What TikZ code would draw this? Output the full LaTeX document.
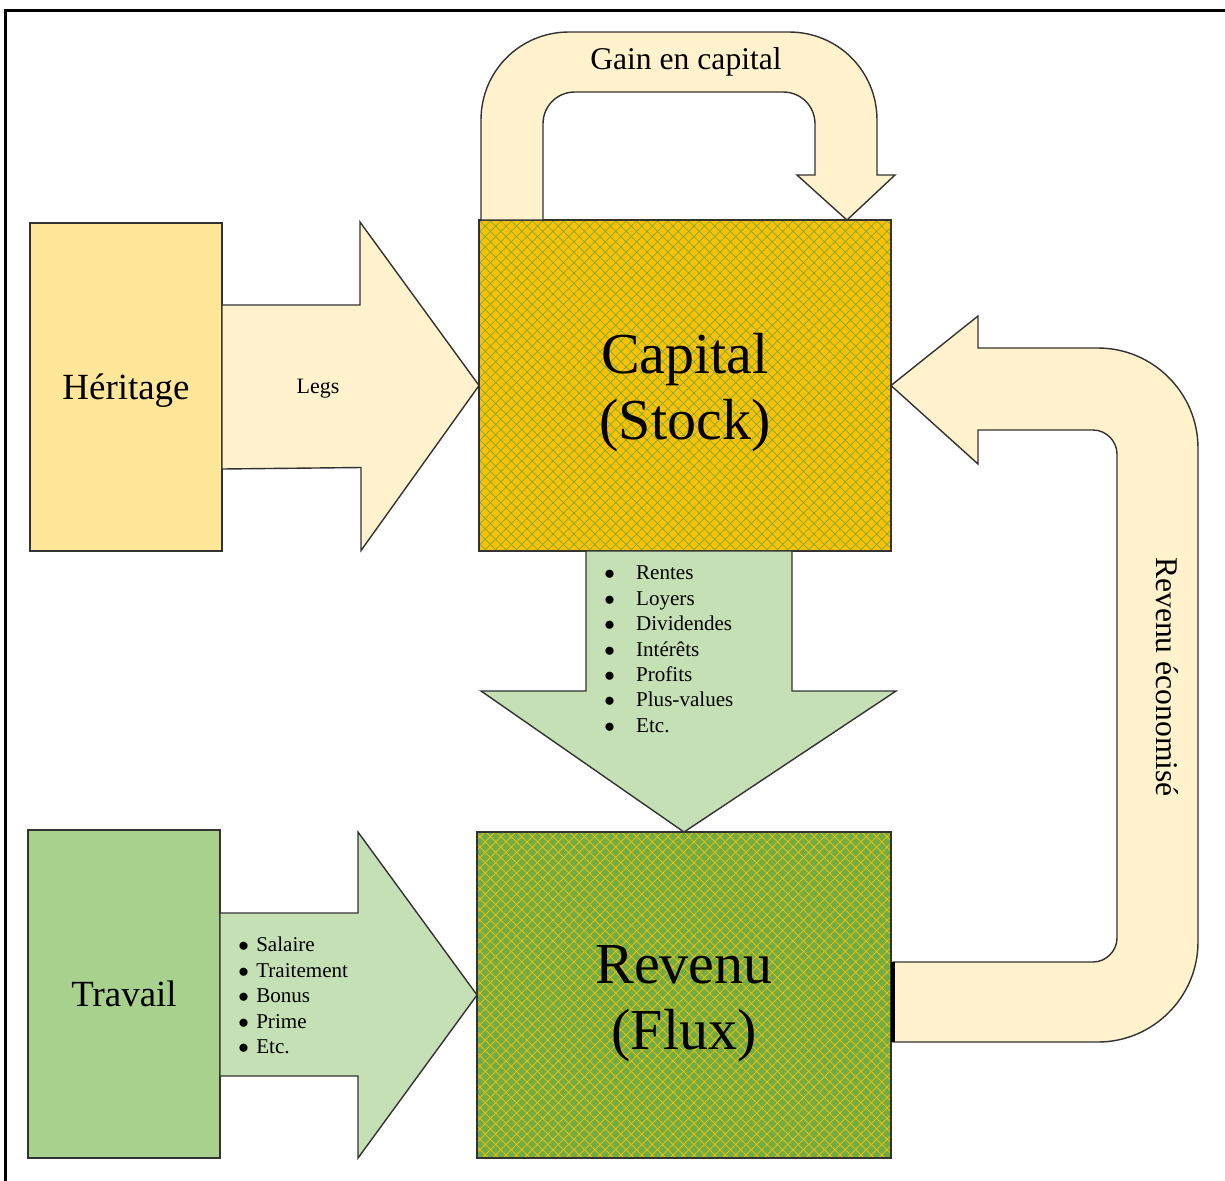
\documentclass[tikz,border=0pt]{standalone}
\usepackage{fontspec}
\setmainfont{Liberation Serif}
\usepackage{tikz}
\usetikzlibrary{calc, patterns.meta}

\definecolor{heritagefill}{HTML}{FFE699}
\definecolor{creamfill}{HTML}{FFF2CC}
\definecolor{capitalfill}{HTML}{FFC000}
\definecolor{revenufill}{HTML}{70AD47}
\definecolor{travailfill}{HTML}{A9D18E}
\definecolor{flowfill}{HTML}{C5E0B4}

\begin{document}
\begin{tikzpicture}[
		x=0.02cm, y=-0.02cm,
		box/.style    ={rectangle,	draw=black!80,	line width=0.8pt,	inner sep=0pt,	outer sep=0pt,	font=\fontsize{21}{25}\selectfont},
		bigbox/.style ={box,	align=center,	font=\fontsize{33}{37.5}\selectfont},
		hatched/.style 2 args={preaction={fill=#1},%
			preaction={pattern={Lines[angle=45,distance=4.2pt,line width=0.4pt]}, pattern color=#2},%
			pattern={Lines[angle=-45,distance=4.2pt,line width=0.4pt]}, pattern color=#2},
		band/.style   ={draw=black!80,	line width=0.8pt,	line join=miter},
		item/.style   ={anchor=base west,	inner sep=0pt,	font=\fontsize{12}{14}\selectfont},
	]

	\useasboundingbox (0,0) rectangle (1225,1181);
	\draw [line width=1.7pt] (1225,10) -- (5.5,10) -- (5.5,1181);

	% nodes
	\node [box, fill=heritagefill, minimum width=3.84cm, minimum height=6.56cm] (heritage) at (126,387) {\raisebox{-2pt}[\height][\depth]{Héritage}};
	\node [box, fill=travailfill, minimum width=3.84cm, minimum height=6.56cm] (travail) at (124,994) {Travail};
	\node [bigbox, hatched={capitalfill}{revenufill}, minimum width=8.24cm, minimum height=6.62cm] (capital) at (685,385.5) {\rule{0pt}{31pt}Capital\\(Stock)};
	\node [bigbox, hatched={revenufill}{capitalfill}, minimum width=8.28cm, minimum height=6.52cm] (revenu) at (684,995) {\rule{0pt}{31pt}Revenu\\(Flux)};

	% arrows
	\draw [band, fill=creamfill] ($(heritage.east)+(0,-82)$) -- ++(138,0) -- ++(0,-83)%
		-- (capital.west) -- ++(-118,165) -- ++(0,-83) -- ($(heritage.east)+(0,82)$) -- cycle;
	\draw [band, fill=flowfill] ($(travail.east)+(0,-81)$) -- ++(138,0) -- ++(0,-81)%
		-- (revenu.west) -- ++(-119,163) -- ++(0,-82) -- ($(travail.east)+(0,82)$) -- cycle;
	\draw [band, fill=flowfill] ($(capital.south)+(-99,0)$) -- ++(0,140) -- ++(-105,0)%
		-- (revenu.north) -- ++(212,-141) -- ++(-104,0) -- ($(capital.south)+(107,0)$) -- cycle;

	\draw [band, fill=creamfill] ($(capital.north west)+(2,0)$) -- (481,120)%
		.. controls (481,71) and (520,32) .. (569,32) -- (789,32)%
		.. controls (838,32) and (877,71) .. (877,120) -- (877,175) -- (895,175)%
		-- ($(capital.north east)+(-44,0)$) -- (797,175) -- (815,175) -- (815,124)%
		.. controls (815,106) and (801,92) .. (783,92) -- (575,92)%
		.. controls (557,92) and (543,106) .. (543,124) -- (543,220) -- cycle;

	\draw [band, fill=creamfill] ($(revenu.east)+(2,-33)$) -- (1093,962)%
		.. controls (1106,962) and (1117,951) .. (1117,938) -- (1117,454)%
		.. controls (1117,441) and (1106,430) .. (1093,430) -- (978,430) -- (978,464)%
		-- (capital.east) -- (978,316) -- (978,348) -- (1098,348)%
		.. controls (1153,348) and (1198,393) .. (1198,448) -- (1198,942)%
		.. controls (1198,997) and (1153,1042) .. (1098,1042) -- ($(revenu.east)+(2,47)$) -- cycle;
	\draw [line width=2pt] ($(revenu.east)+(2,-33)$) -- ($(revenu.east)+(2,47)$);

	% labels
	\node [font=\fontsize{18}{20}\selectfont] (gainlabel) at (686,62) {Gain en capital};
	\node [font=\fontsize{12.5}{14}\selectfont] (legslabel) at (318,389) {Legs};
	\node [rotate=-90, font=\fontsize{18}{20}\selectfont] (savedlabel) at (1167,677) {Revenu économisé};

	\foreach \txt [count=\i] in {Rentes, Loyers, Dividendes, Intérêts, Profits, Plus-values, Etc.}
		\node [item] (flow\i) at (604,{554.5+25.4*\i}) {$\bullet$\hspace{12.1pt}\txt};
	\foreach \txt [count=\i] in {Salaire, Traitement, Bonus, Prime, Etc.}
		\node [item] (wage\i) at (238,{926+25.5*\i}) {$\bullet$\hspace{4.2pt}\txt};

\end{tikzpicture}
\end{document}
